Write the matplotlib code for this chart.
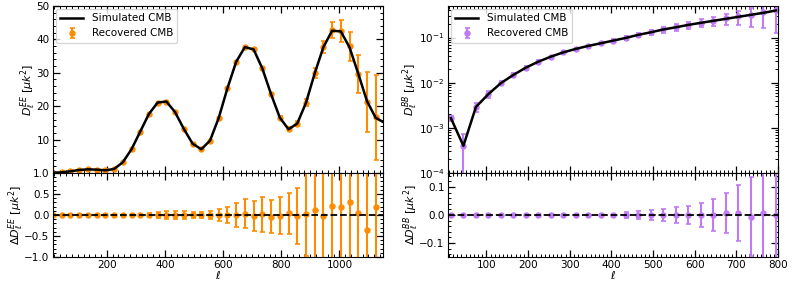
import numpy as np
import matplotlib
matplotlib.use('Agg')
import matplotlib.pyplot as plt
from matplotlib.ticker import MultipleLocator, AutoMinorLocator

# binned multipoles (bin centres, width 30)
ell_ee = np.arange(15, 1126, 30)
ell_bb = np.arange(15, 796, 30)

# EE: simulated spectrum at the bins [uK^2]
ee_sim = [0.1, 0.2, 0.5, 0.9, 1.1, 1.0, 0.8, 1.2, 3.2, 7.1,
          12.4, 17.7, 21.1, 21.4, 18.2, 13.2, 8.8, 7.1, 9.7, 16.5,
          25.4, 33.3, 37.7, 37.0, 31.3, 23.6, 16.6, 13.1, 14.8, 21.0,
          29.8, 37.7, 42.6, 42.4, 37.6, 29.7, 21.5, 16.5]
# simulated curve continues to the right edge of the plot
ee_edge_ell = 1150
ee_edge_val = 15.3
# residuals (recovered - simulated)
ee_res = [0, 0, 0, 0, 0, 0, 0, 0, 0, 0,
          0, 0, 0, 0, 0, 0, 0, 0, 0, 0,
          0, 0, 0.03, -0.02, 0.02, -0.04, -0.02, 0.04, -0.02, 0.02,
          0.12, -0.02, 0.22, 0.20, 0.32, 0.04, -0.36, 0.19]
ee_err = [0.005, 0.005, 0.005, 0.005, 0.005, 0.005, 0.005, 0.005, 0.008, 0.012,
          0.025, 0.056, 0.08, 0.095, 0.095, 0.087, 0.08, 0.075, 0.1, 0.15,
          0.19, 0.28, 0.35, 0.36, 0.42, 0.39, 0.44, 0.49, 0.67, 1.0,
          1.5, 1.7, 2.5, 3.3, 4.3, 5.7, 9.0, 12.8]

# BB
bb_sim = [1.64e-3, 4.0e-4, 2.9e-3, 5.6e-3, 9.8e-3, 0.0149, 0.0216, 0.0293, 0.0378,
          0.0471, 0.0561, 0.0655, 0.0747, 0.0858, 0.0984, 0.115, 0.131, 0.151,
          0.169, 0.191, 0.212, 0.235, 0.26, 0.288, 0.319, 0.353, 0.398]
bb_res = [0, 0, 0, 0, 0, 0, 0, 0, 0,
          0, 0, 0, 0, 0, 0, 0, 0, 0,
          0, 0, 0, 0, 0.006, 0.006, -0.006, 0.006, 0]
bb_err = [2e-4, 3.2e-4, 6e-4, 9e-4, 1.1e-3, 1.3e-3, 1.5e-3, 1.8e-3, 2e-3,
          2.2e-3, 2.5e-3, 3e-3, 3.5e-3, 5e-3, 0.011, 0.013, 0.018, 0.023,
          0.027, 0.033, 0.043, 0.057, 0.072, 0.1, 0.14, 0.2, 0.27]

c_ee = 'darkorange'
c_bb = '#c07af5'
fs = 7.5

plt.rcParams['font.size'] = fs
plt.rcParams['mathtext.fontset'] = 'dejavusans'

fig = plt.figure(figsize=(7.93, 2.81), dpi=100)

W = 330 / 793
x_left = 53 / 793
x_right = 448 / 793
y_split = 1 - 173 / 281
y_bot = 1 - 257 / 281
y_top = 1 - 6 / 281

ax1 = fig.add_axes([x_left, y_split, W, y_top - y_split])
ax2 = fig.add_axes([x_left, y_bot, W, y_split - y_bot], sharex=ax1)
ax3 = fig.add_axes([x_right, y_split, W, y_top - y_split])
ax4 = fig.add_axes([x_right, y_bot, W, y_split - y_bot], sharex=ax3)


def style(ax):
    ax.tick_params(which='both', direction='in', top=True, right=True, labelsize=fs)
    ax.tick_params(which='major', length=5, width=0.9, pad=2.5)
    ax.tick_params(which='minor', length=2.5, width=0.7)


ee_sim_a = np.array(ee_sim)
ee_rec = ee_sim_a + np.array(ee_res)
bb_sim_a = np.array(bb_sim)
bb_rec = bb_sim_a + np.array(bb_res)

eb = dict(fmt='o', ms=3.6, elinewidth=1.5, capsize=1.8, capthick=1.2)
lab = dict(fontsize=fs + 0.5, labelpad=-1)

# EE spectrum
ax1.plot(np.append(ell_ee, ee_edge_ell), np.append(ee_sim_a, ee_edge_val),
         color='k', lw=1.8, label='Simulated CMB', zorder=3)
ax1.errorbar(ell_ee, ee_rec, yerr=ee_err, color=c_ee, label='Recovered CMB', zorder=2, **eb)
ax1.set_ylim(0, 50)
ax1.set_yticks([10, 20, 30, 40, 50])
ax1.yaxis.set_minor_locator(AutoMinorLocator())
ax1.set_ylabel(r'$D_\ell^{EE}\ [\mu k^2]$', **lab)
ax1.legend(loc='upper left', fontsize=fs, borderaxespad=0.3, handlelength=2.2)
plt.setp(ax1.get_xticklabels(), visible=False)

# EE residual
ax2.errorbar(ell_ee, ee_res, yerr=ee_err, color=c_ee, **eb)
ax2.axhline(0, color='k', ls='--', lw=1.3, zorder=3)
ax2.set_ylim(-1, 1)
ax2.set_yticks([-1.0, -0.5, 0.0, 0.5, 1.0])
ax2.yaxis.set_minor_locator(AutoMinorLocator())
ax2.set_xlim(15, 1150)
ax2.xaxis.set_major_locator(MultipleLocator(200))
ax2.xaxis.set_minor_locator(MultipleLocator(20))
ax2.set_ylabel(r'$\Delta D_\ell^{EE}\ [\mu k^2]$', **lab)
ax2.set_xlabel(r'$\ell$', fontsize=fs + 0.5, labelpad=-1)

# BB spectrum
ax3.plot(ell_bb, bb_sim_a, color='k', lw=1.8, label='Simulated CMB', zorder=3)
ax3.errorbar(ell_bb, bb_rec, yerr=bb_err, color=c_bb, label='Recovered CMB', zorder=2, **eb)
ax3.set_yscale('log')
ax3.set_ylim(1e-4, 0.5)
ax3.set_ylabel(r'$D_\ell^{BB}\ [\mu k^2]$', **lab)
ax3.legend(loc='upper left', fontsize=fs, borderaxespad=0.3, handlelength=2.2)
plt.setp(ax3.get_xticklabels(), visible=False)

# BB residual
ax4.errorbar(ell_bb, bb_res, yerr=bb_err, color=c_bb, **eb)
ax4.axhline(0, color='k', ls='--', lw=1.3, zorder=3)
ax4.set_ylim(-0.15, 0.15)
ax4.set_yticks([-0.1, 0.0, 0.1])
ax4.yaxis.set_minor_locator(AutoMinorLocator())
ax4.set_xlim(8, 800)
ax4.xaxis.set_major_locator(MultipleLocator(100))
ax4.xaxis.set_minor_locator(MultipleLocator(10))
ax4.set_ylabel(r'$\Delta D_\ell^{BB}\ [\mu k^2]$', **lab)
ax4.set_xlabel(r'$\ell$', fontsize=fs + 0.5, labelpad=-1)

for ax in (ax1, ax2, ax3, ax4):
    style(ax)

plt.savefig('out.png', dpi=100)
